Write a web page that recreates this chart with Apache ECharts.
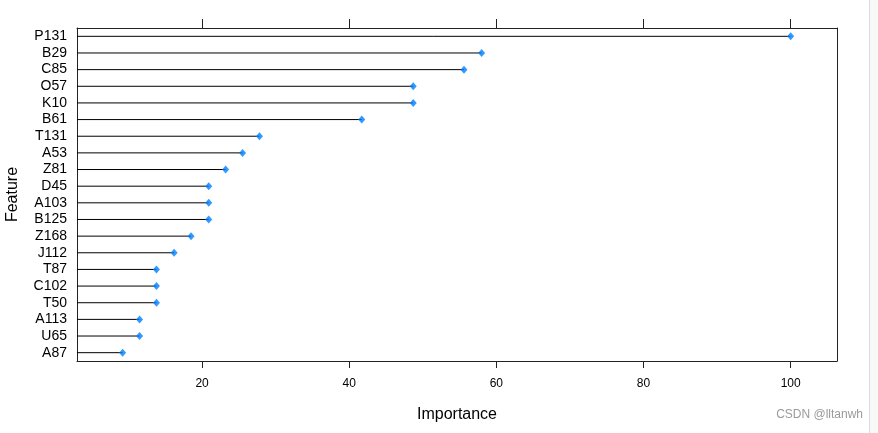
<!DOCTYPE html>
<html>
<head>
<meta charset="utf-8">
<script src="https://cdn.jsdelivr.net/npm/echarts@6/dist/echarts.min.js"></script>
<style>html,body{margin:0;padding:0;background:#fff;}#c{width:878px;height:433px;}</style>
</head>
<body>
<div id="c"></div>
<script>
var features = ['P131','B29','C85','O57','K10','B61','T131','A53','Z81','D45','A103','B125','Z168','J112','T87','C102','T50','A113','U65','A87'];
var importance = [100, 58.0, 55.6, 48.7, 48.7, 41.7, 27.8, 25.5, 23.2, 20.9, 20.9, 20.9, 18.5, 16.2, 13.8, 13.8, 13.8, 11.5, 11.5, 9.2];
var xTicks = [20, 40, 60, 80, 100];
var xMin = 3, xMax = 106.3;

var chart = echarts.init(document.getElementById('c'));
var font = 'Liberation Sans, Arial, sans-serif';
var data = importance.map(function (v, i) { return [v, i]; });
chart.setOption({
  animation: false,
  grid: { left: 77, right: 41, top: 28, bottom: 72, containLabel: false, outerBoundsMode: 'none' },
  xAxis: [{
    type: 'value', min: xMin, max: xMax, position: 'bottom',
    name: 'Importance', nameLocation: 'middle', nameGap: 46,
    nameTextStyle: { fontFamily: font, fontSize: 16, color: '#000' },
    axisLine: { show: true, lineStyle: { color: '#222', width: 1 } },
    axisTick: { show: true, length: 7, lineStyle: { color: '#222' }, customValues: xTicks },
    axisLabel: { fontFamily: font, fontSize: 12, color: '#000', margin: 17, customValues: xTicks },
    splitLine: { show: false }
  }, {
    type: 'value', min: xMin, max: xMax, position: 'top',
    axisLine: { show: true, lineStyle: { color: '#222', width: 1 } },
    axisTick: { show: true, length: 9, lineStyle: { color: '#222' }, customValues: xTicks },
    axisLabel: { show: false },
    splitLine: { show: false }
  }],
  yAxis: [{
    type: 'category', data: features, inverse: true, position: 'left',
    name: 'Feature', nameLocation: 'middle', nameGap: 56, nameRotate: 90,
    nameTextStyle: { fontFamily: font, fontSize: 16, color: '#000' },
    axisLine: { show: true, lineStyle: { color: '#222', width: 1 } },
    axisTick: { show: false },
    axisLabel: { fontFamily: font, fontSize: 14, color: '#000', margin: 10, interval: 0 },
    splitLine: { show: false }
  }, {
    type: 'category', data: features, inverse: true, position: 'right',
    axisLine: { show: true, lineStyle: { color: '#222', width: 1 } },
    axisTick: { show: false }, axisLabel: { show: false }
  }],
  series: [{
    type: 'custom',
    data: data,
    renderItem: function (params, api) {
      var end = api.coord([api.value(0), api.value(1)]);
      var start = api.coord([xMin, api.value(1)]);
      return {
        type: 'line',
        shape: { x1: start[0], y1: start[1], x2: end[0], y2: end[1] },
        style: { stroke: '#000', lineWidth: 1 }
      };
    },
    z: 2
  }, {
    type: 'scatter',
    data: data,
    symbol: 'diamond',
    symbolSize: [7, 8],
    itemStyle: { color: '#0080ff' },
    z: 3
  }],
  graphic: [{
    type: 'rect', left: 870, top: 0,
    shape: { width: 8, height: 433 },
    style: { fill: '#f8f8f9' }
  }, {
    type: 'line',
    shape: { x1: 869.5, y1: 0, x2: 869.5, y2: 433 },
    style: { stroke: '#dcdde0', lineWidth: 1 }
  }, {
    type: 'text', right: 15, top: 409,
    style: { text: 'CSDN @lltanwh', fontFamily: font, fontSize: 12, fill: '#9a9a9a' }
  }]
});
</script>
</body>
</html>
